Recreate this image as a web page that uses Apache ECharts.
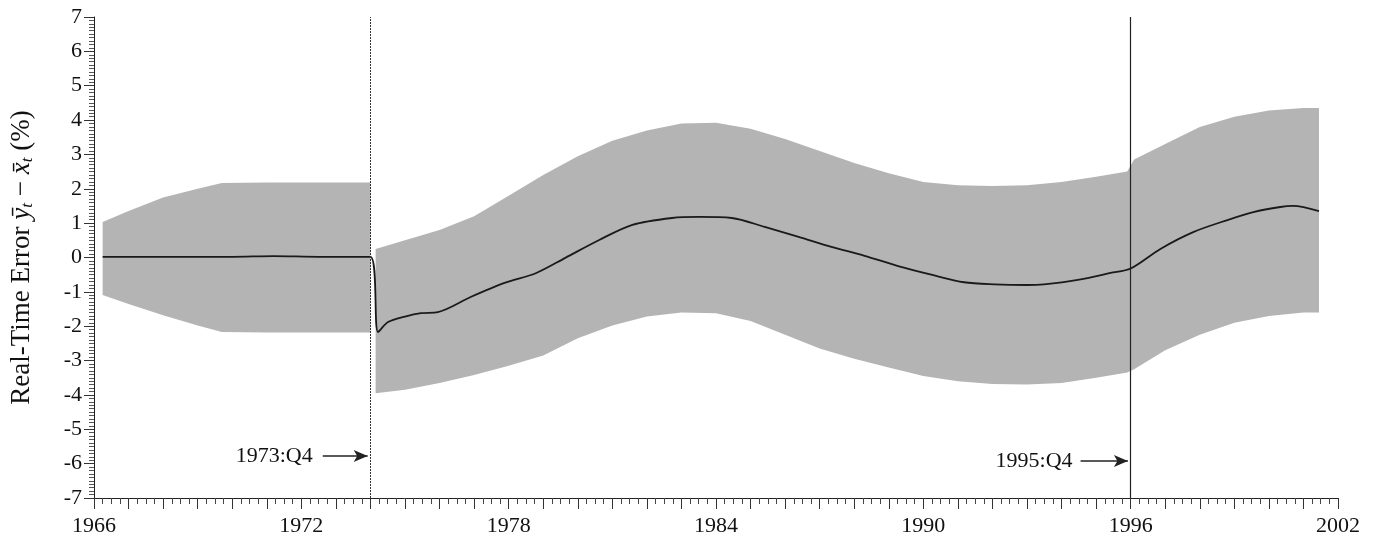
<!DOCTYPE html>
<html>
<head>
<meta charset="utf-8">
<script src="https://cdn.jsdelivr.net/npm/echarts@6/dist/echarts.min.js"></script>
<style>
html,body{margin:0;padding:0;background:#fff;}
#chart{width:1374px;height:544px;}
</style>
</head>
<body>
<div id="chart"></div>
<script>
// Band before the 1973:Q4 break
const segAYears = [1966.25, 1967.0, 1968.0, 1969.0, 1969.7, 1971.0, 1972.0, 1973.0, 1974.0];
const segAUpper = [1.03, 1.35, 1.75, 2.0, 2.17, 2.18, 2.18, 2.18, 2.18];
const segALower = [-1.09, -1.35, -1.68, -1.98, -2.17, -2.18, -2.18, -2.18, -2.18];

// Band after the break
const segBYears = [1974.15, 1975.0, 1976.0, 1977.0, 1978.0, 1979.0, 1980.0, 1981.0, 1982.0, 1983.0, 1984.0, 1985.0, 1986.0, 1987.0, 1988.0, 1989.0, 1990.0, 1991.0, 1992.0, 1993.0, 1994.0, 1995.0, 1995.9, 1996.1, 1997.0, 1998.0, 1999.0, 2000.0, 2001.0, 2001.45];
const segBUpper = [0.25, 0.5, 0.8, 1.2, 1.8, 2.4, 2.95, 3.4, 3.7, 3.9, 3.92, 3.75, 3.45, 3.1, 2.75, 2.45, 2.2, 2.1, 2.08, 2.1, 2.2, 2.35, 2.5, 2.85, 3.3, 3.8, 4.1, 4.28, 4.35, 4.35];
const segBLower = [-3.95, -3.85, -3.65, -3.42, -3.15, -2.85, -2.35, -1.98, -1.72, -1.6, -1.62, -1.85, -2.25, -2.65, -2.95, -3.2, -3.45, -3.6, -3.68, -3.7, -3.65, -3.5, -3.35, -3.25, -2.7, -2.25, -1.9, -1.7, -1.6, -1.6];

// Central real-time error line
const lineYears = [1966.25, 1970.0, 1971.2, 1972.5, 1974.0, 1974.22, 1974.51, 1975.0, 1975.46, 1975.95, 1976.9, 1977.88, 1978.8, 1979.64, 1980.62, 1981.58, 1982.73, 1983.5, 1984.46, 1985.41, 1986.39, 1987.34, 1988.3, 1989.27, 1990.23, 1991.18, 1992.05, 1993.0, 1993.49, 1994.47, 1995.42, 1996.0, 1996.86, 1997.81, 1998.8, 1999.55, 2000.33, 2000.7, 2001.45];
const lineValues = [0.02, 0.02, 0.04, 0.02, 0.02, -2.17, -1.88, -1.72, -1.62, -1.59, -1.15, -0.74, -0.45, -0.01, 0.51, 0.95, 1.15, 1.18, 1.15, 0.89, 0.6, 0.31, 0.05, -0.25, -0.5, -0.72, -0.78, -0.8, -0.78, -0.65, -0.45, -0.32, 0.25, 0.74, 1.09, 1.32, 1.47, 1.5, 1.35];

// Tick labels
const xLabelYears = [1966, 1972, 1978, 1984, 1990, 1996, 2002];
const yTickValues = [-7, -6, -5, -4, -3, -2, -1, 0, 1, 2, 3, 4, 5, 6, 7];

// Break markers
const breakLabels = ['1973:Q4', '1995:Q4'];
const breakYears = [1974.0, 1996.0];

const FONT = 'Liberation Serif';
const BAND = '#b4b4b4';

function pairs(xs, ys) { return xs.map((x, i) => [x, ys[i]]); }
function triples(xs, up, lo) { return xs.map((x, i) => [x, up[i], lo[i]]); }

function bandSeries(name, xs, up, lo) {
  return {
    name: name, type: 'custom', silent: true, z: 1,
    data: triples(xs, up, lo),
    encode: {x: 0, y: [1, 2]},
    renderItem: function (params, api) {
      if (params.dataIndex !== 0) return null;
      const pts = [];
      for (let i = 0; i < xs.length; i++) pts.push(api.coord([xs[i], up[i]]));
      for (let i = xs.length - 1; i >= 0; i--) pts.push(api.coord([xs[i], lo[i]]));
      return {type: 'polygon', shape: {points: pts}, style: {fill: BAND, stroke: null}};
    }
  };
}

const chart = echarts.init(document.getElementById('chart'), null, {renderer: 'canvas'});

chart.setOption({
  animation: false,
  backgroundColor: '#fff',
  grid: {left: 90, right: 36, top: 17, bottom: 46, containLabel: false},
  xAxis: {
    type: 'value', min: 1966, max: 2002, interval: 1,
    axisLine: {show: true, onZero: false, lineStyle: {color: '#222', width: 1}},
    axisTick: {show: true, length: 11, lineStyle: {color: '#333'}},
    minorTick: {show: true, splitNumber: 4, length: 6, lineStyle: {color: '#444'}},
    splitLine: {show: false},
    axisLabel: {
      margin: 17, fontFamily: FONT, fontSize: 22, color: '#111',
      formatter: v => xLabelYears.indexOf(Math.round(v)) >= 0 ? String(Math.round(v)) : ''
    }
  },
  yAxis: {
    type: 'value', min: -7, max: 7, interval: 1,
    axisLine: {show: true, onZero: false, lineStyle: {color: '#222', width: 1}},
    axisTick: {show: true, length: 10, lineStyle: {color: '#333'}},
    minorTick: {show: true, splitNumber: 10, length: 5, lineStyle: {color: '#555'}},
    splitLine: {show: false},
    axisLabel: {
      margin: 12, fontFamily: FONT, fontSize: 22, color: '#111',
      formatter: v => yTickValues.indexOf(Math.round(v)) >= 0 ? String(Math.round(v)) : ''
    },
    name: 'Real-Time Error {i|\u0233}{s|t} \u2212 {i|x\u0304}{s|t} (%)',
    nameLocation: 'middle', nameGap: 58, nameRotate: 90,
    nameTextStyle: {
      fontFamily: FONT, fontSize: 27, color: '#111',
      rich: {
        i: {fontFamily: FONT, fontSize: 27, fontStyle: 'italic', color: '#111'},
        s: {fontFamily: FONT, fontSize: 17, fontStyle: 'italic', color: '#111', padding: [12, 0, 0, 0]}
      }
    }
  },
  series: [
    bandSeries('bandA', segAYears, segAUpper, segALower),
    bandSeries('bandB', segBYears, segBUpper, segBLower),
    {
      name: 'error', type: 'line', symbol: 'none', z: 3, smooth: 0.3,
      data: pairs(lineYears, lineValues),
      lineStyle: {color: '#1a1a1a', width: 1.8},
      markLine: {
        silent: true, symbol: 'none', animation: false,
        label: {show: false},
        data: [
          {xAxis: breakYears[0], lineStyle: {color: '#333', width: 1, type: [2, 1]}},
          {xAxis: breakYears[1], lineStyle: {color: '#222', width: 1.2, type: 'solid'}},
          [
            {coord: [1972.62, -5.78], symbol: 'none',
             label: {show: true, position: 'start', formatter: breakLabels[0], fontFamily: FONT, fontSize: 22, color: '#111', distance: 10},
             lineStyle: {color: '#222', width: 1.5, type: 'solid'}},
            {coord: [1973.92, -5.78], symbol: 'arrow', symbolSize: [9, 14]}
          ],
          [
            {coord: [1994.55, -5.92], symbol: 'none',
             label: {show: true, position: 'start', formatter: breakLabels[1], fontFamily: FONT, fontSize: 22, color: '#111', distance: 8},
             lineStyle: {color: '#222', width: 1.5, type: 'solid'}},
            {coord: [1995.92, -5.92], symbol: 'arrow', symbolSize: [9, 14]}
          ]
        ]
      }
    }
  ]
});
</script>
</body>
</html>
